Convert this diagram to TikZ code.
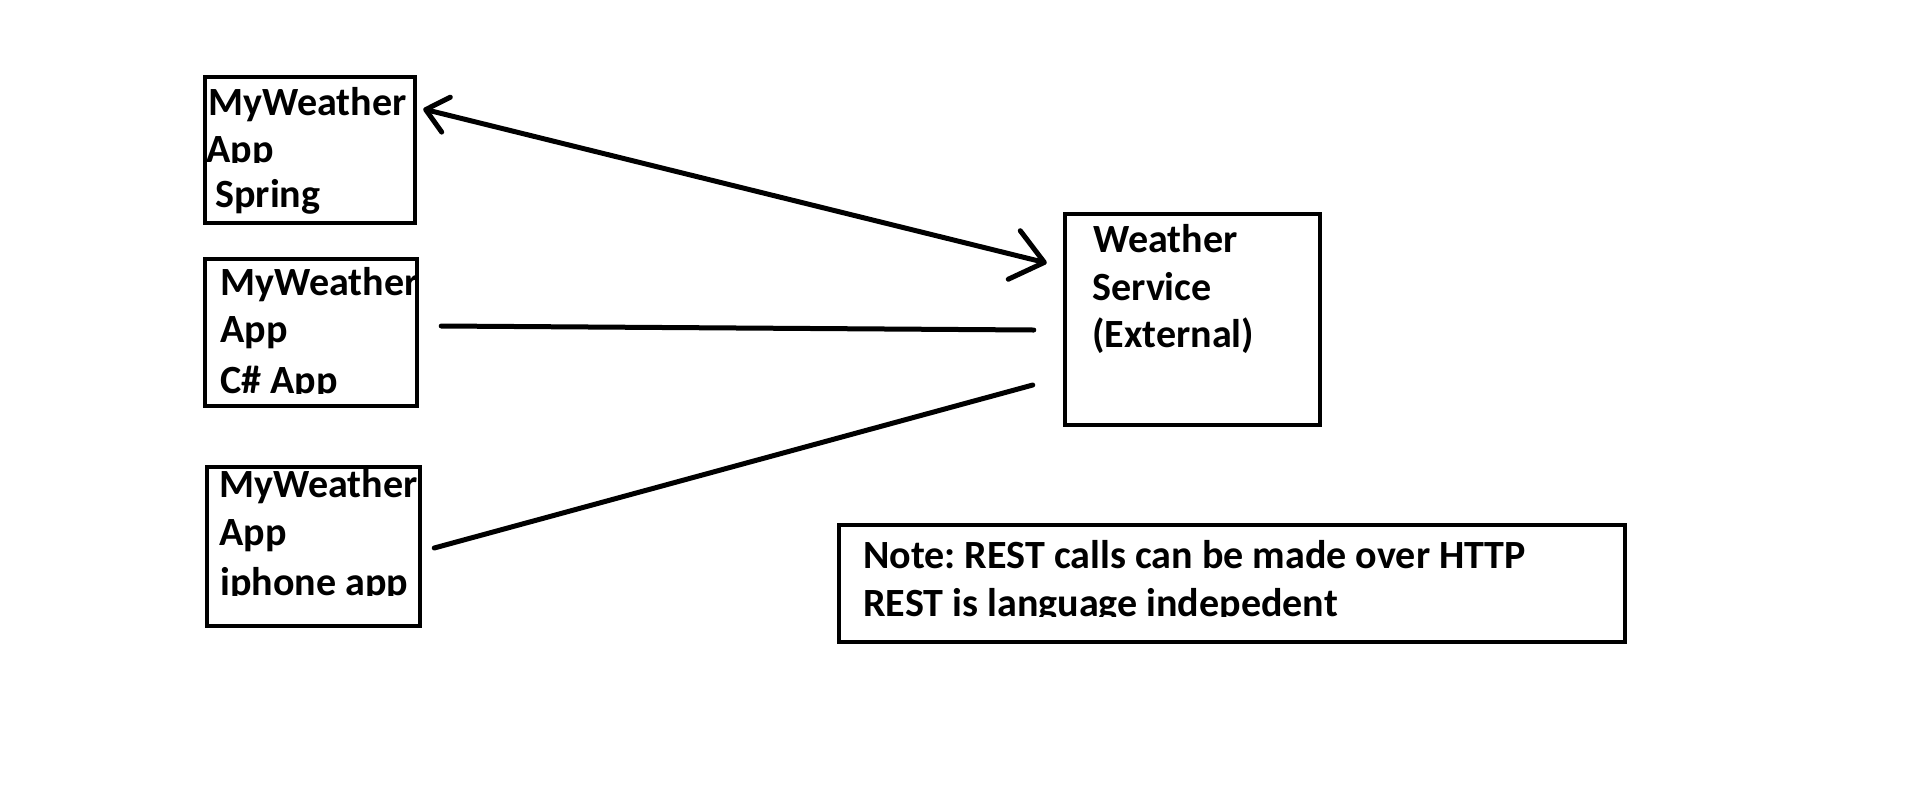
\documentclass[tikz,border=0pt]{standalone}
\usepackage{fontspec}
\setmainfont{Carlito}
\usepackage{trimclip}
\usetikzlibrary{arrows.meta,calc}

% cut off the descenders, as the drawing does on some lines
\newcommand{\cutdesc}[1]{\clipbox{0pt \depth{} 0pt 0pt}{#1}}
\frenchspacing

\begin{document}
\begin{tikzpicture}[
    x=0.02cm, y=-0.02cm,
    box/.style={rectangle, draw, line width=0.09cm, inner sep=0pt},
    txt/.style={anchor=base west, inner sep=0pt, font=\fontsize{22.8}{27}\selectfont\bfseries},
    link/.style={line width=0.1cm, line cap=round},
    twoway/.style={link, {Straight Barb[round, length=0.42cm, width=0.72cm]}-{Straight Barb[round, length=0.62cm, width=1cm]}}
]

% Page
\fill[white] (0,0) rectangle (1914,802);
\useasboundingbox (0,0) rectangle (1914,802);

% Client apps (left column)
\node[box, minimum width=4.2cm, minimum height=2.92cm] (app1) at (310,150) {};
\node[txt] (app1a) at (208,115) {MyWeather};
\node[txt] (app1b) at (206,162) {\cutdesc{App}};
\node[txt] (app1c) at (215,207) {Spring};

\node[box, minimum width=4.24cm, minimum height=2.94cm] (app2) at (311,332.5) {};
\node[txt] (app2a) at (220,295) {MyWeather};
\node[txt] (app2b) at (220,342) {App};
\node[txt] (app2c) at (220,393) {\cutdesc{C\# App}};

\node[box, minimum width=4.26cm, minimum height=3.18cm] (app3) at (313.5,546.5) {};
\node[txt] (app3a) at (219,497) {MyWeather};
\node[txt] (app3b) at (219,545) {App};
\node[txt] (app3c) at (220,595) {\cutdesc{iphone app}};

% External service (right)
\node[box, minimum width=5.1cm, minimum height=4.22cm] (service) at (1192.5,319.5) {};
\node[txt] (servicea) at (1093,252) {Weather};
\node[txt] (serviceb) at (1092,300) {Service};
\node[txt] (servicec) at (1092,347) {(External)};

% Note
\node[box, minimum width=15.72cm, minimum height=2.34cm] (note) at (1232,583.5) {};
\node[txt] (notea) at (863,568) {Note: REST calls can be made over HTTP};
\node[txt] (noteb) at (863,616) {\cutdesc{REST is language indepedent}};

% Connections to the service
\draw[twoway] ($(app1.east)+(6,-41)$) -- ($(service.west)+(-16,-56.5)$);
\draw[link] ($(app2.east)+(22,-6.5)$) -- ($(service.west)+(-29,10.5)$);
\draw[link] ($(app3.east)+(12,1.5)$) -- ($(service.west)+(-30,65.5)$);

\end{tikzpicture}
\end{document}
